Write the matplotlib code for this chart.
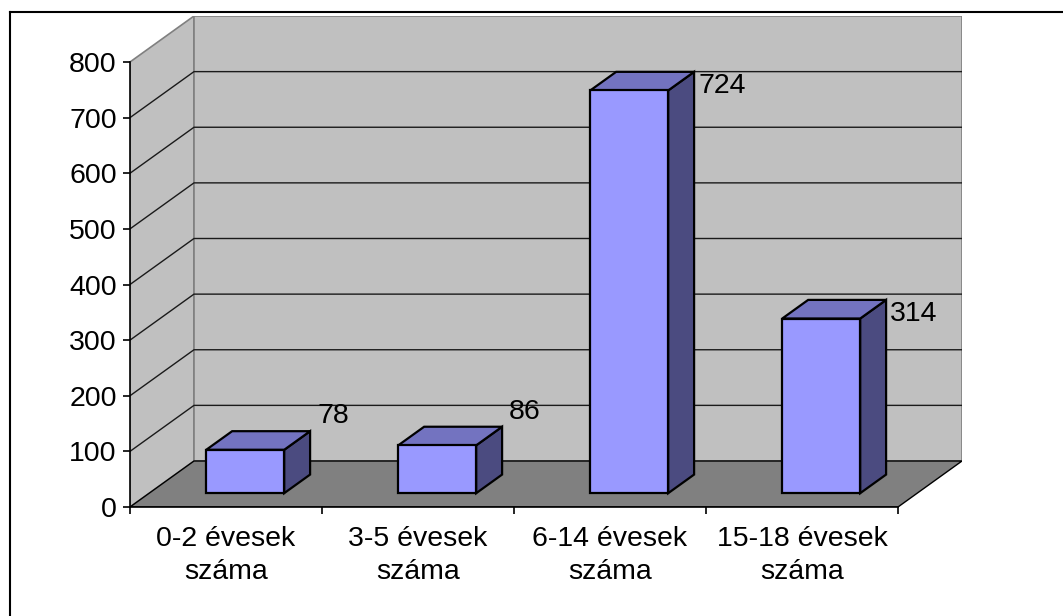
import matplotlib
matplotlib.use("Agg")
import matplotlib.pyplot as plt
from matplotlib.patches import Polygon

plt.rcParams['font.family'] = ['Liberation Sans', 'DejaVu Sans']

categories = ["0-2 évesek\nszáma", "3-5 évesek\nszáma", "6-14 évesek\nszáma", "15-18 évesek\nszáma"]
values = [78, 86, 724, 314]
y_ticks = [0, 100, 200, 300, 400, 500, 600, 700, 800]

W, H = 1063, 616
fig = plt.figure(figsize=(W / 100, H / 100), dpi=100)

px_left, px_back_right = 130, 962
px_bottom, px_back_top = 507, 16
ymax = 800
depth_dx = 1 / 3.0
depth_dy = 82.7
n = len(categories)
fs = 20.5

ax = fig.add_axes([px_left / W, (H - px_bottom) / H,
                   (px_back_right - px_left) / W, (px_bottom - px_back_top) / H])
ax.set_xlim(0, n + depth_dx)
ax.set_ylim(0, ymax + depth_dy)
for s in ax.spines.values():
    s.set_visible(False)
ax.patch.set_visible(False)

wall_c = "#C0C0C0"
floor_c = "#808080"
edge_c = "#808080"
grid_c = "#1a1a1a"

ax.add_patch(Polygon([(0, 0), (0, ymax), (depth_dx, ymax + depth_dy), (depth_dx, depth_dy)],
                     closed=True, facecolor=wall_c, edgecolor=edge_c, lw=1.2, zorder=1))
ax.add_patch(Polygon([(depth_dx, depth_dy), (depth_dx, ymax + depth_dy),
                      (n + depth_dx, ymax + depth_dy), (n + depth_dx, depth_dy)],
                     closed=True, facecolor=wall_c, edgecolor=edge_c, lw=1.2, zorder=1))
ax.add_patch(Polygon([(0, 0), (n, 0), (n + depth_dx, depth_dy), (depth_dx, depth_dy)],
                     closed=True, facecolor=floor_c, edgecolor="#000000", lw=1.0, zorder=1.5))

for t in y_ticks[1:-1]:
    ax.plot([0, depth_dx, n + depth_dx], [t, t + depth_dy, t + depth_dy],
            color=grid_c, lw=1.0, zorder=2)

ax.plot([0, 0], [0, ymax], color="black", lw=1.2, zorder=3, clip_on=False)
ax.plot([0, n], [0, 0], color="black", lw=1.2, zorder=3, clip_on=False)

bw = 0.406
d0, d1 = 0.3, 0.705
front_c, top_c, side_c = "#9999FF", "#7373C0", "#4B4B80"
for i, v in enumerate(values):
    xc = i + 0.5
    x0 = xc - bw / 2 + d0 * depth_dx
    x1 = xc + bw / 2 + d0 * depth_dx
    y0 = d0 * depth_dy
    ddx = (d1 - d0) * depth_dx
    ddy = (d1 - d0) * depth_dy
    front = [(x0, y0), (x1, y0), (x1, y0 + v), (x0, y0 + v)]
    top = [(x0, y0 + v), (x1, y0 + v), (x1 + ddx, y0 + v + ddy), (x0 + ddx, y0 + v + ddy)]
    side = [(x1, y0), (x1 + ddx, y0 + ddy), (x1 + ddx, y0 + v + ddy), (x1, y0 + v)]
    for poly, c in ((side, side_c), (top, top_c), (front, front_c)):
        ax.add_patch(Polygon(poly, closed=True, facecolor=c, edgecolor="black",
                             lw=1.6, joinstyle="miter", zorder=4))
    corner = (x1 + ddx, y0 + v + ddy)
    bar_px = v * (px_bottom - px_back_top) / (ymax + depth_dy)
    if bar_px < 60:
        ax.annotate(str(v), xy=corner, xytext=(7, 15), textcoords="offset pixels",
                    ha="left", va="center", fontsize=fs, zorder=5)
    else:
        ax.annotate(str(v), xy=corner, xytext=(4, -14), textcoords="offset pixels",
                    ha="left", va="center", fontsize=fs, zorder=5)

ax.set_yticks(y_ticks)
ax.set_yticklabels([str(t) for t in y_ticks])
ax.set_xticks(range(n + 1))
ax.set_xticklabels([""] * (n + 1))
ax.set_xticks([i + 0.5 for i in range(n)], minor=True)
ax.set_xticklabels(categories, minor=True, linespacing=1.38)
ax.tick_params(axis="y", direction="out", length=5, width=1.2, pad=4.5, labelsize=fs)
ax.tick_params(axis="x", which="major", direction="out", length=5, width=1.2)
ax.tick_params(axis="x", which="minor", length=0, pad=13.5, labelsize=fs)

fig.add_artist(plt.Line2D([10 / W, 10 / W], [0, (H - 12) / H], color="black", lw=1.5,
                          transform=fig.transFigure))
fig.add_artist(plt.Line2D([10 / W, 1], [(H - 12) / H, (H - 12) / H], color="black", lw=1.5,
                          transform=fig.transFigure))

fig.savefig("out.png", dpi=100, facecolor="white")
